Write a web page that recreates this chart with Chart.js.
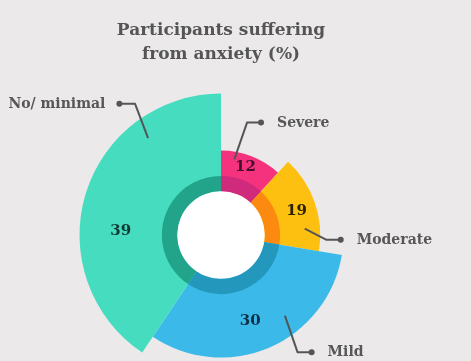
<!DOCTYPE html>
<html>
<head>
<meta charset="utf-8">
<script src="https://cdn.jsdelivr.net/npm/chart.js@4.4.1/dist/chart.umd.min.js"></script>
<style>
html, body { margin: 0; padding: 0; background: #ebe9e9; }
#wrap { width: 471px; height: 361px; position: relative; overflow: hidden; }
canvas { display: block; }
</style>
</head>
<body>
<div id="wrap"><canvas id="chart" width="471" height="361"></canvas></div>
<script>
// ---- data ----
const categories = ['Severe', 'Moderate', 'Mild', 'No/ minimal'];
const values = [12, 19, 30, 39];                 // % participants (labels + slice radius)
const sweepShares = [11.8, 15.8, 31.8, 40.6];    // share of the full turn each slice spans (%)
const titleLines = ['Participants suffering', 'from anxiety (%)'];

// ---- styling ----
const sliceColors = ['#f5327d', '#fec010', '#3bb9e9', '#46dcc0'];
const ringColors  = ['#cf2a7b', '#fd8a10', '#2497bc', '#21a48a'];
const valueColors = ['#45102e', '#2b2200', '#0e3049', '#0f3b33'];
const textGrey = '#575757';
const lineGrey = '#555555';
const serif = "'DejaVu Serif', Georgia, serif";

// callout layout per slice: anchor position inside slice (fraction of sweep, fraction of radius),
// elbow offset from anchor, horizontal run to the dot, and text side
const callouts = [
  { f: 0.235, rf: 0.91,  ex: 12.7,  ey: -36.7, run: 14,    side: 'right' },
  { f: 0.76,  rf: 0.846, ex: 21.3,  ey: 11,    run: 14.7,  side: 'right' },
  { f: 0.369, rf: 0.84,  ex: 12.7,  ey: 36.7,  run: 14,    side: 'right' },
  { f: 0.747, rf: 0.857, ex: -13,   ey: -34.3, run: -15.7, side: 'left' }
];
const valuePos = [0.47, 0.53, 0.54, 0.40];   // fraction of sweep where the value sits

const ringPlugin = {
  id: 'innerRing',
  afterDatasetsDraw(chart) {
    const ctx = chart.ctx;
    const scale = chart.scales.r;
    const meta = chart.getDatasetMeta(0);
    const outer = scale.getDistanceFromCenterForValue(0);
    const hole = outer * 0.74;
    ctx.save();
    meta.data.forEach((arc, i) => {
      const p = arc.getProps(['x', 'y', 'startAngle', 'endAngle'], true);
      ctx.beginPath();
      ctx.arc(p.x, p.y, outer, p.startAngle, p.endAngle);
      ctx.arc(p.x, p.y, hole, p.endAngle, p.startAngle, true);
      ctx.closePath();
      ctx.fillStyle = ringColors[i];
      ctx.fill();
    });
    ctx.beginPath();
    ctx.arc(scale.xCenter, scale.yCenter, hole, 0, Math.PI * 2);
    ctx.fillStyle = '#ffffff';
    ctx.fill();
    ctx.restore();
  }
};

const calloutPlugin = {
  id: 'callouts',
  afterDraw(chart) {
    const ctx = chart.ctx;
    const scale = chart.scales.r;
    const meta = chart.getDatasetMeta(0);
    const ringOuter = scale.getDistanceFromCenterForValue(0);
    ctx.save();
    meta.data.forEach((arc, i) => {
      const p = arc.getProps(['x', 'y', 'startAngle', 'endAngle', 'outerRadius'], true);
      const sweep = p.endAngle - p.startAngle;
      // value label
      const va = p.startAngle + sweep * valuePos[i];
      const vr = (ringOuter + p.outerRadius) / 2;
      ctx.font = 'bold 15px ' + serif;
      ctx.fillStyle = valueColors[i];
      ctx.textAlign = 'center';
      ctx.textBaseline = 'middle';
      ctx.fillText(String(values[i]), p.x + Math.cos(va) * vr, p.y + Math.sin(va) * vr);

      // leader line
      const c = callouts[i];
      const a = p.startAngle + sweep * c.f;
      const r = p.outerRadius * c.rf;
      const ax = p.x + Math.cos(a) * r, ay = p.y + Math.sin(a) * r;
      const bx = ax + c.ex, by = ay + c.ey;
      const dx = bx + c.run, dy = by;
      ctx.strokeStyle = lineGrey;
      ctx.lineWidth = 2;
      ctx.lineJoin = 'round';
      ctx.beginPath();
      ctx.moveTo(ax, ay);
      ctx.lineTo(bx, by);
      ctx.lineTo(dx, dy);
      ctx.stroke();
      ctx.beginPath();
      ctx.arc(dx, dy, 3, 0, Math.PI * 2);
      ctx.fillStyle = lineGrey;
      ctx.fill();
      // category text
      ctx.font = 'bold 14px ' + serif;
      ctx.fillStyle = textGrey;
      ctx.textBaseline = 'alphabetic';
      if (c.side === 'right') {
        ctx.textAlign = 'left';
        ctx.fillText(categories[i], dx + 16, dy + 4);
      } else {
        ctx.textAlign = 'right';
        ctx.fillText(categories[i], dx - 14, dy + 4);
      }
    });
    ctx.restore();
  }
};

new Chart(document.getElementById('chart'), {
  type: 'polarArea',
  data: {
    labels: categories,
    datasets: [{
      data: values,
      backgroundColor: sliceColors,
      borderWidth: 0,
      angle: (c) => sweepShares[c.dataIndex] * 3.6,
      clip: false
    }]
  },
  options: {
    responsive: false,
    animation: false,
    events: [],
    layout: { padding: { left: 0, right: 29, top: 0, bottom: 0 } },
    scales: {
      r: {
        display: false,
        min: -28,
        max: 31.2,
        startAngle: 0,
        ticks: { display: false },
        grid: { display: false },
        angleLines: { display: false },
        pointLabels: { display: false }
      }
    },
    plugins: {
      legend: { display: false },
      tooltip: { enabled: false },
      title: {
        display: true,
        text: titleLines,
        color: '#555555',
        font: { family: serif, weight: 'bold', size: 17, lineHeight: 1.38 },
        padding: { top: 19, bottom: 44 }
      }
    }
  },
  plugins: [ringPlugin, calloutPlugin]
});
</script>
</body>
</html>
